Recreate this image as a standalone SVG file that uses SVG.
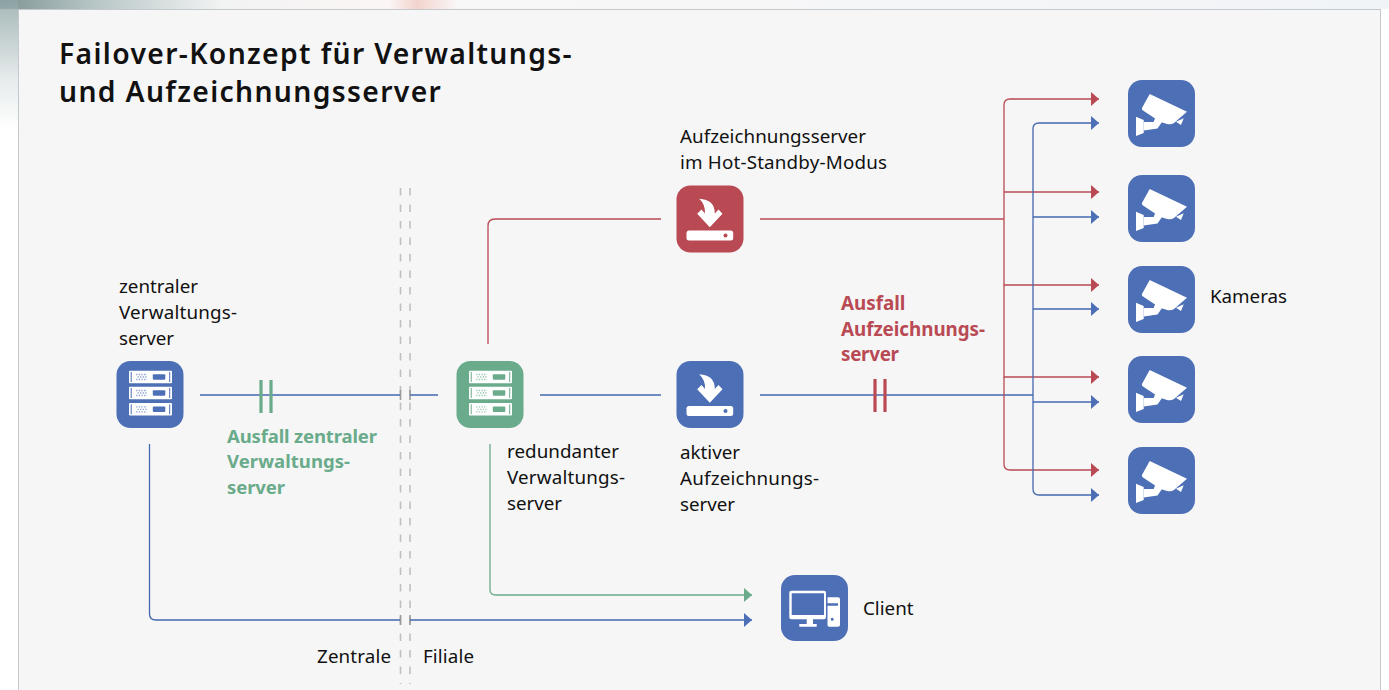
<svg xmlns="http://www.w3.org/2000/svg" width="1389" height="690" viewBox="0 0 1389 690">
<defs>
<linearGradient id="bgl" x1="0" y1="0" x2="0" y2="1"><stop offset="0" stop-color="#8fa5a5"/><stop offset="0.6" stop-color="#dfe5e6"/><stop offset="1" stop-color="#ffffff"/></linearGradient>
<linearGradient id="bgt" x1="0" y1="0" x2="1" y2="0"><stop offset="0" stop-color="#7f9595"/><stop offset="0.07" stop-color="#b9c7c7"/><stop offset="0.16" stop-color="#f2f3f3"/><stop offset="0.28" stop-color="#fbf6f5"/><stop offset="0.3" stop-color="#f3d3cd"/><stop offset="0.33" stop-color="#f9f8f8"/><stop offset="1" stop-color="#f1f4f7"/></linearGradient>
<marker id="ar" markerUnits="userSpaceOnUse" markerWidth="9" markerHeight="14" refX="8" refY="7" orient="auto"><path d="M0 0L8 7L0 14Z" fill="#b94a54"/></marker>
<marker id="ab" markerUnits="userSpaceOnUse" markerWidth="9" markerHeight="14" refX="8" refY="7" orient="auto"><path d="M0 0L8 7L0 14Z" fill="#4d6fb5"/></marker>
<marker id="ag" markerUnits="userSpaceOnUse" markerWidth="9" markerHeight="14" refX="8" refY="7" orient="auto"><path d="M0 0L8 7L0 14Z" fill="#69ab8a"/></marker>
<g id="cam">
<rect width="67" height="67" rx="14"/>
<path fill="#fff" d="M21.700 14L59 31.700L46 43Q43 45 39 44L32 41.700L15 30.500Q13 29 14.500 27Z"/>
<path fill="#fff" d="M48 41.700L55.700 38.300L53 45Z"/>
<path fill="#fff" d="M8 36.700L15.700 40V53L8 56Z"/>
<path fill="#fff" d="M15.700 42H25.700L27.500 37L34 42L29.500 48.500L15.700 50.500Z"/>
</g>
<g id="srvrow">
<rect x="12.500" y="9.700" width="43" height="12.500" rx="1" fill="#fff"/>
<rect x="14.200" y="11" width="1" height="10" fill="currentColor"/>
<rect x="52.700" y="11" width="1" height="10" fill="currentColor"/>
<rect x="36.300" y="13.300" width="12.500" height="5.500" rx="1" fill="currentColor"/>
<path d="M19.700 13.500H30.500M21 16H31M19.700 18.500H30.500" fill="none" stroke="currentColor" stroke-width="1.300" stroke-dasharray="1.300 1.300" opacity=".65"/>
</g>
<g id="srv">
<rect width="67" height="67" rx="14"/>
<use href="#srvrow"/><use href="#srvrow" y="16"/><use href="#srvrow" y="32.300"/>
</g>
<g id="rec">
<rect width="67" height="67" rx="14"/>
<path fill="#fff" d="M22.700 13.300Q38.300 14 38.300 28L42 24L46 28.300L33.300 41.700L20.700 28.300L25 24L28.500 28Q29 19 22.700 13.300Z"/>
<rect x="10" y="45" width="46.700" height="10" rx="2.500" fill="#fff"/>
<circle cx="49" cy="50" r="2" fill="currentColor"/>
</g>
</defs>
<style>
.bg{fill:#f6f6f6;stroke:#c4c9cd;stroke-width:1}
.t{font-family:"Noto Sans","Open Sans","Liberation Sans",sans-serif;font-size:18.800px;fill:#111}
.h{font-family:"Noto Sans","Open Sans","Liberation Sans",sans-serif;font-size:28.300px;font-weight:600;fill:#111;letter-spacing:1.350px}
.ag{font-family:"Noto Sans","Open Sans","Liberation Sans",sans-serif;font-size:18.500px;font-weight:700;fill:#69ab8a}
.ar{font-family:"Noto Sans","Open Sans","Liberation Sans",sans-serif;font-size:18.800px;font-weight:700;fill:#b94a54}
.r{fill:none;stroke:#b94a54;stroke-width:1.300}
.b{fill:none;stroke:#4468b0;stroke-width:1.300}
.g{fill:none;stroke:#69ab8a;stroke-width:1.300}
.d{fill:none;stroke:#c0c0c0;stroke-width:1.600;stroke-dasharray:7.500 9}
.tk{fill:none;stroke:#9a9a9a;stroke-width:1.600}
.tb{fill:#4d6fb5;color:#4d6fb5}.tr{fill:#b94a54;color:#b94a54}.tg{fill:#69ab8a;color:#69ab8a}
</style>
<rect width="1389" height="690" fill="#fff"/>
<rect width="1389" height="9" fill="url(#bgt)"/>
<rect width="18" height="130" fill="url(#bgl)" opacity=".8"/>
<rect class="bg" x="18.500" y="9.500" width="1362" height="690"/>

<text class="h" x="59" y="64">Failover-Konzept für Verwaltungs-</text>
<text class="h" x="59" y="102">und Aufzeichnungsserver</text>

<g id="connectors">
<path class="d" d="M400.500 188V684M410 188V684"/>
<path class="tk" d="M400.500 390V400M410 390V400M400.500 615V625M410 615V625"/>
<path class="b" d="M200 395H400M410 395H438"/>
<path class="b" d="M540 395H661"/>
<path class="b" d="M760 395H1033"/>
<path class="r" d="M760 219H1004"/>
<path class="r" d="M488 344V226Q488 219 495 219H661"/>
<path class="r" marker-end="url(#ar)" d="M1004 219V105Q1004 99 1010 99H1099"/>
<path class="r" marker-end="url(#ar)" d="M1004 192H1099"/>
<path class="r" marker-end="url(#ar)" d="M1004 219V285H1099"/>
<path class="r" marker-end="url(#ar)" d="M1004 285V377H1099"/>
<path class="r" marker-end="url(#ar)" d="M1004 377V464Q1004 470 1010 470H1099"/>
<path class="b" marker-end="url(#ab)" d="M1033 395V129Q1033 123 1039 123H1099"/>
<path class="b" marker-end="url(#ab)" d="M1033 217H1099"/>
<path class="b" marker-end="url(#ab)" d="M1033 309H1099"/>
<path class="b" marker-end="url(#ab)" d="M1033 402H1099"/>
<path class="b" marker-end="url(#ab)" d="M1033 395V489Q1033 495 1039 495H1099"/>
<path class="g" marker-end="url(#ag)" d="M490 444V590Q490 595 496 595H752"/>
<path class="b" marker-end="url(#ab)" d="M149.500 444V614Q149.500 620 156 620H400M410 620H752"/>
<path d="M261 380V413M271 380V413" fill="none" stroke="#69ab8a" stroke-width="3.200"/>
<path d="M875 379V412M885 379V412" fill="none" stroke="#b94a54" stroke-width="3.200"/>
</g>

<g id="node-zentral" class="tb"><use href="#srv" x="116.500" y="361"/><text class="t" x="119" y="293" textLength="79">zentraler</text><text class="t" x="119" y="319" textLength="118">Verwaltungs-</text><text class="t" x="119" y="345" textLength="55">server</text></g>
<g id="node-redundant" class="tg"><use href="#srv" x="456.500" y="361"/><text class="t" x="507" y="458" textLength="112">redundanter</text><text class="t" x="507" y="484" textLength="118">Verwaltungs-</text><text class="t" x="507" y="510" textLength="55">server</text></g>
<g id="node-standby" class="tr"><use href="#rec" x="676.500" y="185.500"/><text class="t" x="680" y="143" textLength="186">Aufzeichnungsserver</text><text class="t" x="680" y="169" textLength="207">im Hot-Standby-Modus</text></g>
<g id="node-aktiv" class="tb"><use href="#rec" x="676.500" y="361"/><text class="t" x="680" y="459" textLength="60">aktiver</text><text class="t" x="680" y="485" textLength="139">Aufzeichnungs-</text><text class="t" x="680" y="511" textLength="55">server</text></g>
<g id="node-client" class="tb"><rect x="781" y="575" width="67" height="66" rx="14"/>
<path fill="#fff" fill-rule="evenodd" d="M791.300 590.700H824Q826 590.700 826 592.700V617.300Q826 619.300 824 619.300H813V624H816.700V626.700H799.300V624H806.700V619.300H791.300Q789.300 619.300 789.300 617.300V592.700Q789.300 590.700 791.300 590.700ZM791.700 593.300V615H824V593.300Z"/>
<path fill="#fff" fill-rule="evenodd" d="M827.500 597.300H838Q840 597.300 840 599.300V624.700Q840 626.700 838 626.700H829Q827.500 626.700 827.500 625V621H827.500ZM827.500 603.300V605.700H838V603.300ZM830.700 619.300a1.500 1.500 0 1 0 3 0a1.500 1.500 0 1 0-3 0Z"/>
<text class="t" x="863" y="615">Client</text></g>
<g id="cam1" class="tb"><use href="#cam" x="1128" y="80"/></g>
<g id="cam2" class="tb"><use href="#cam" x="1128" y="175"/></g>
<g id="cam3" class="tb"><use href="#cam" x="1128" y="266"/><text class="t" x="1210" y="303" textLength="77">Kameras</text></g>
<g id="cam4" class="tb"><use href="#cam" x="1128" y="356"/></g>
<g id="cam5" class="tb"><use href="#cam" x="1128" y="447"/></g>

<g id="label-ausfall-v"><text class="ag" x="227" y="443" textLength="150">Ausfall zentraler</text><text class="ag" x="227" y="468" textLength="123">Verwaltungs-</text><text class="ag" x="227" y="494" textLength="58">server</text></g>
<g id="label-ausfall-a"><text class="ar" x="841" y="310">Ausfall</text><text class="ar" x="841" y="336" textLength="144">Aufzeichnungs-</text><text class="ar" x="841" y="361" textLength="58">server</text></g>
<g id="label-orte"><text class="t" x="317" y="663" textLength="74">Zentrale</text><text class="t" x="423" y="663" textLength="51">Filiale</text></g>
</svg>
